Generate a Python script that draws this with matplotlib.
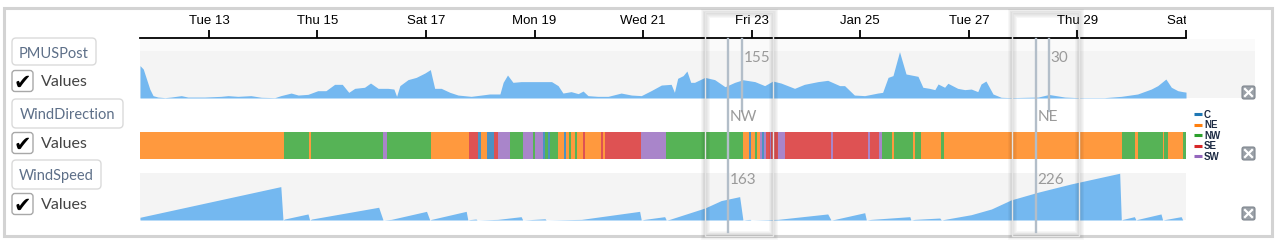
import numpy as np
import matplotlib
matplotlib.use('Agg')
import matplotlib.pyplot as plt
from matplotlib.patches import Rectangle, FancyBboxPatch

W, H = 1276, 251

# eje de tiempo: dia de enero 2015
tick_days = [13, 15, 17, 19, 21, 23, 25, 27, 29, 31]
tick_labels = ['Tue 13', 'Thu 15', 'Sat 17', 'Mon 19', 'Wed 21', 'Fri 23',
               'Jan 25', 'Tue 27', 'Thu 29', 'Sat 31']
x_start, x_end = 11.73, 30.97

# PMUSPost
pm_t = [11.73, 11.79, 11.85, 11.91, 11.97, 12.06, 12.19, 12.30, 12.49, 12.61,
        12.92, 13.22, 13.35, 13.53, 13.77, 13.96, 14.21, 14.32, 14.51, 14.64,
        14.82, 15.00, 15.15, 15.31, 15.45, 15.57, 15.68, 15.86, 15.97, 16.11,
        16.29, 16.40, 16.45, 16.51, 16.66, 16.81, 16.97, 17.07, 17.15, 17.27,
        17.43, 17.58, 17.82, 18.01, 18.16, 18.35, 18.41, 18.49, 18.59, 18.74,
        19.05, 19.30, 19.42, 19.51, 19.66, 19.79, 19.88, 19.97, 20.15, 20.34,
        20.58, 20.77, 20.95, 21.13, 21.32, 21.50, 21.56, 21.62, 21.72, 21.79,
        21.86, 21.93, 22.12, 22.30, 22.49, 22.67, 22.82, 23.04, 23.22, 23.37,
        23.52, 23.77, 23.95, 24.20, 24.38, 24.60, 24.69, 24.87, 25.06, 25.30,
        25.39, 25.49, 25.58, 25.70, 25.82, 26.04, 26.13, 26.25, 26.35, 26.41,
        26.53, 26.59, 26.77, 26.90, 27.02, 27.14, 27.20, 27.29, 27.42, 27.57,
        27.75, 28.25, 28.45, 28.74, 28.98, 29.47, 29.78, 30.08, 30.33, 30.45,
        30.60, 30.70, 30.82, 30.91, 30.97]
pm_v = [275, 246, 161, 76, 20, 8, 3, 8, 20, 8,
        8, 14, 20, 14, 20, 6, 3, 20, 42, 25,
        31, 62, 62, 116, 116, 48, 82, 91, 127, 82,
        82, 76, 14, 105, 156, 175, 212, 241, 82, 82,
        48, 25, 14, 25, 34, 34, 133, 195, 133, 139,
        139, 139, 105, 42, 54, 37, 59, 20, 14, 14,
        42, 25, 20, 62, 110, 116, 48, 167, 190, 229,
        133, 133, 175, 156, 96, 133, 155, 139, 105, 144,
        127, 82, 116, 139, 150, 105, 105, 25, 20, 42,
        48, 175, 190, 393, 204, 184, 91, 82, 71, 119,
        91, 125, 82, 71, 76, 54, 119, 144, 34, 6,
        3, 8, 30, 8, 3, 3, 14, 34, 76, 105,
        161, 91, 62, 54, 50]

# WindDirection (inicio de cada tramo)
dir_start = [11.73, 14.38, 14.83, 14.87, 16.20, 16.28, 17.08, 17.78, 17.95, 18.00,
             18.12, 18.25, 18.31, 18.53, 18.77, 18.96, 19.00, 19.14, 19.18, 19.23,
             19.27, 19.42, 19.53, 19.57, 19.63, 19.66, 19.74, 19.77, 19.88, 19.92,
             20.21, 20.25, 20.29, 20.95, 21.40, 22.82, 22.94, 22.97, 23.04, 23.08,
             23.13, 23.17, 23.21, 23.25, 23.31, 23.34, 23.46, 23.59, 24.44, 24.48,
             25.12, 25.15, 25.32, 25.38, 25.57, 25.60, 25.95, 25.98, 26.10, 26.47,
             26.52, 29.79, 30.04, 30.08, 30.54, 30.57, 30.64, 30.91]
dir_value = ['NE', 'NW', 'NE', 'NW', 'SW', 'NW', 'NE', 'SE', 'C', 'NE',
             'C', 'SE', 'SW', 'NW', 'SW', 'NW', 'SW', 'C', 'NW', 'C',
             'NW', 'NE', 'C', 'NE', 'NW', 'NE', 'NW', 'NE', 'SE', 'NE',
             'SE', 'NE', 'SE', 'SW', 'NW', 'NE', 'C', 'NE', 'NW', 'NE',
             'SW', 'C', 'SW', 'SE', 'SW', 'SE', 'SW', 'SE', 'SW', 'SE',
             'SW', 'SE', 'SW', 'NW', 'NE', 'NW', 'NE', 'NW', 'NE', 'NW',
             'NE', 'NW', 'NE', 'NW', 'NE', 'NW', 'NE', 'NW']
dir_names = ['C', 'NE', 'NW', 'SE', 'SW']

# WindSpeed
speed_t = [11.73, 14.32, 14.36, 14.39, 14.82, 14.85, 14.89, 16.12, 16.20, 16.35,
           17.00, 17.06, 17.09, 17.73, 17.76, 17.79, 17.91, 17.93, 18.31, 18.74,
           18.77, 18.90, 19.18, 19.20, 19.85, 20.92, 20.95, 21.01, 21.38, 21.41,
           21.47, 22.12, 22.42, 22.76, 22.82, 22.88, 22.95, 22.97, 23.46, 24.38,
           24.44, 24.51, 25.06, 25.09, 25.18, 25.89, 25.91, 25.98, 26.44, 26.47,
           26.53, 27.02, 27.39, 27.75, 28.25, 28.86, 29.75, 29.78, 29.81, 30.02,
           30.05, 30.08, 30.51, 30.54, 30.60, 30.88, 30.91, 30.97]
speed_v = [22, 270, 0, 8, 49, 0, 8, 103, 0, 5,
           70, 0, 5, 70, 0, 3, 8, 0, 5, 27,
           0, 3, 10, 0, 5, 70, 0, 5, 27, 0,
           5, 97, 157, 189, 0, 3, 5, 0, 5, 49,
           0, 5, 59, 0, 5, 27, 0, 5, 16, 0,
           5, 43, 89, 162, 225, 292, 378, 0, 5, 27,
           0, 5, 49, 0, 5, 27, 0, 0]

# ventanas del cursor
hover_boxes = [(22.12, 23.37), (27.77, 29.00)]
hover_lines = [(22.54, 22.80), (28.21, 28.45)]
hover_pm = ['155', '30']
hover_dir = ['NW', 'NE']
hover_speed = ['163', '226']

band_col = {'C': '#4c92c3', 'NE': '#ff993e', 'NW': '#56b356', 'SE': '#de5253', 'SW': '#a985ca'}
leg_col = {'C': '#1f77b4', 'NE': '#ff7f0e', 'NW': '#2ca02c', 'SE': '#d62728', 'SW': '#9467bd'}
area_col = '#74b8f0'


def rect(x0, y0, x1, y1):
    return [x0 / W, 1 - y1 / H, (x1 - x0) / W, (y1 - y0) / H]


fig = plt.figure(figsize=(W / 100, H / 100), dpi=100)

# fondo en pixeles
bg = fig.add_axes([0, 0, 1, 1], zorder=0)
bg.set_xlim(0, W)
bg.set_ylim(H, 0)
bg.axis('off')
bg.add_patch(Rectangle((4, 9), 1268, 228, fill=False, ec='#d3d3d3', lw=2.2))
bg.add_patch(Rectangle((140, 40), 1115, 12, fc='#fafafa', ec='none'))
bg.add_patch(Rectangle((140, 52), 1115, 47, fc='#f4f4f4', ec='none'))
bg.add_patch(Rectangle((140, 174), 1046, 47, fc='#f4f4f4', ec='none'))

# etiquetas de la izquierda
for (x0, y0, x1, y1, name), vy in zip([(12, 39, 96, 66, 'PMUSPost'),
                                       (12, 100, 123, 129, 'WindDirection'),
                                       (12, 161, 101, 190, 'WindSpeed')], [82, 144, 205]):
    bg.add_patch(FancyBboxPatch((x0, y0), x1 - x0, y1 - y0,
                                boxstyle='round,pad=0,rounding_size=4',
                                fc='white', ec='#dadada', lw=1))
    bg.text((x0 + x1) / 2, (y0 + y1) / 2 + 1, name, ha='center', va='center',
            fontsize=10.5, family='Lato', color='#5d6f88')
    bg.add_patch(FancyBboxPatch((12, vy - 10.5), 21, 21,
                                boxstyle='round,pad=0,rounding_size=3',
                                fc='white', ec='#a8a8a8', lw=1))
    bg.text(22.5, vy + 0.5, '\u2714', ha='center', va='center', fontsize=15,
            family='DejaVu Sans', color='black')
    bg.text(41, vy + 0.5, 'Values', ha='left', va='center', fontsize=11.5,
            family='Lato', color='#444444')

# leyenda
for i, name in enumerate(dir_names):
    yy = 115 + i * 10.5
    bg.plot([1194, 1202], [yy, yy], color=leg_col[name], lw=2.2, solid_capstyle='butt')
    bg.text(1204, yy, name, ha='left', va='center', fontsize=7, family='Liberation Sans',
            weight='bold', color='#1d2b44')

# iconos de cerrar
for yy in [87, 148, 208]:
    bg.add_patch(FancyBboxPatch((1242, yy), 13, 13, boxstyle='round,pad=0,rounding_size=2',
                                fc='#9aa0a7', ec='#7f868e', lw=0.8))
    bg.plot([1245, 1252], [yy + 3, yy + 10], color='white', lw=1.6)
    bg.plot([1245, 1252], [yy + 10, yy + 3], color='white', lw=1.6)

# eje de tiempo
ax_t = fig.add_axes(rect(140, 12, 1186, 39), zorder=1)
ax_t.set_xlim(x_start, x_end)
ax_t.set_ylim(0, 1)
ax_t.patch.set_alpha(0)
for s in ['top', 'left', 'right']:
    ax_t.spines[s].set_visible(False)
ax_t.spines['bottom'].set_linewidth(1.3)
ax_t.set_yticks([])
ax_t.set_xticks(tick_days)
ax_t.tick_params(axis='x', direction='in', length=6, width=1.3, labelbottom=False)
for d, lab in zip(tick_days, tick_labels):
    ax_t.text(d, 0.67, lab, ha='center', va='center', fontsize=9.5,
              family='Liberation Sans', color='black', clip_on=True)

# PMUSPost
ax1 = fig.add_axes(rect(140, 40, 1186, 99), zorder=1)
ax1.fill_between(pm_t, pm_v, 0, color=area_col, lw=0)
ax1.set_xlim(x_start, x_end)
ax1.set_ylim(0, 501)
ax1.axis('off')

# WindDirection
ax2 = fig.add_axes(rect(140, 133, 1186, 160), zorder=1)
ends = dir_start[1:] + [x_end]
for s, e, v in zip(dir_start, ends, dir_value):
    ax2.axvspan(s, e, color=band_col[v], lw=0)
ax2.set_xlim(x_start, x_end)
ax2.axis('off')

# WindSpeed
ax3 = fig.add_axes(rect(140, 174, 1186, 221), zorder=1)
ax3.fill_between(speed_t, speed_v, 0, color=area_col, lw=0)
ax3.set_xlim(x_start, x_end)
ax3.set_ylim(0, 380)
ax3.axis('off')

# cursores
ov = fig.add_axes(rect(140, 0, 1186, H), zorder=5)
ov.set_xlim(x_start, x_end)
ov.set_ylim(H, 0)
ov.axis('off')
for (b0, b1), (l0, l1), tp, td, ts in zip(hover_boxes, hover_lines, hover_pm, hover_dir, hover_speed):
    for k in range(1, 6):
        ov.add_patch(Rectangle((b0, 14), b1 - b0, 222, fill=False, ec='black',
                               lw=k * 1.3, alpha=0.028, clip_on=False))
    ov.add_patch(Rectangle((b0, 13), b1 - b0, 224, fill=False, ec='#e6e6e6', lw=1.0, clip_on=False))
    ov.plot([l0, l0], [40, 233], color='#b3bec9', lw=1.7, clip_on=False)
    ov.plot([l1, l1], [40, 112], color='#b3bec9', lw=1.7, clip_on=False)
    ov.text(l1 + 0.03, 58, tp, ha='left', va='center', fontsize=11, family='Lato', color='#9a9a9a')
    ov.text(l0 + 0.03, 117, td, ha='left', va='center', fontsize=11, family='Lato', color='#9a9a9a')
    ov.text(l0 + 0.03, 180, ts, ha='left', va='center', fontsize=11, family='Lato', color='#9a9a9a')

plt.savefig('out.png', dpi=100)
